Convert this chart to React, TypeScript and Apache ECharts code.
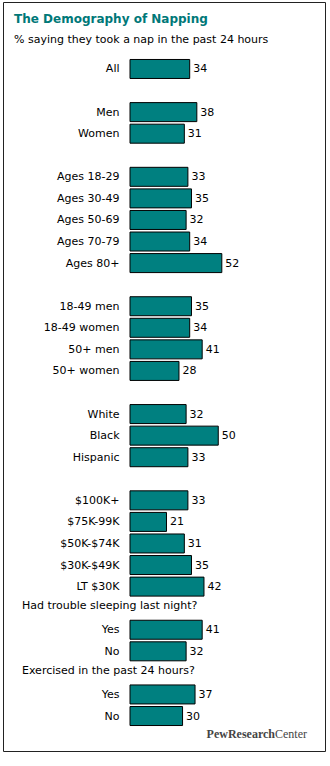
import React, { useEffect, useRef } from "react";
import * as echarts from "echarts";

const title = "The Demography of Napping";
const subtitle = "% saying they took a nap in the past 24 hours";
const categories = [
  "All", "",
  "Men", "Women", "",
  "Ages 18-29", "Ages 30-49", "Ages 50-69", "Ages 70-79", "Ages 80+", "",
  "18-49 men", "18-49 women", "50+ men", "50+ women", "",
  "White", "Black", "Hispanic", "",
  "$100K+", "$75K-99K", "$50K-$74K", "$30K-$49K", "LT $30K", "",
  "Yes", "No", "",
  "Yes", "No",
];
const values: (number | null)[] = [
  34, null,
  38, 31, null,
  33, 35, 32, 34, 52, null,
  35, 34, 41, 28, null,
  32, 50, 33, null,
  33, 21, 31, 35, 42, null,
  41, 32, null,
  37, 30,
];
const groupHeaders = [
  { index: 25, text: "Had trouble sleeping last night?" },
  { index: 28, text: "Exercised in the past 24 hours?" },
];
const sourceBold = "PewResearch";
const sourceRest = "Center";

const TEAL = "#008080";
const FONT = "DejaVu Sans";

export default function App() {
  const ref = useRef<HTMLDivElement>(null);
  useEffect(() => {
    if (!ref.current) return;
    const chart = echarts.init(ref.current, undefined, { renderer: "svg" });
    const baseOption: any = {
      animation: false,
      backgroundColor: "#ffffff",
      grid: { left: 129.5, top: 58.2, width: 178.5, height: 668.6, containLabel: false },
      xAxis: { type: "value", min: 0, max: 100, show: false },
      yAxis: {
        type: "category",
        inverse: true,
        data: categories.map((_, i) => String(i)),
        axisLine: { show: false },
        axisTick: { show: false },
        splitLine: { show: false },
        axisLabel: {
          interval: 0,
          margin: 10,
          color: "#000",
          fontFamily: FONT,
          fontSize: 11,
          formatter: (_v: string, i: number) => categories[i],
        },
      },
      series: [
        {
          type: "bar",
          data: values,
          barWidth: 20,
          itemStyle: { color: TEAL, borderColor: "#000", borderWidth: 1 },
          label: {
            show: true,
            position: "right",
            distance: 3,
            color: "#000",
            fontFamily: FONT,
            fontSize: 11,
          },
        },
      ],
    };
    chart.setOption(baseOption);
    const headerTexts = groupHeaders.map((h) => {
      const y = chart.convertToPixel({ yAxisIndex: 0 }, String(h.index)) as number;
      return {
        type: "text",
        left: 22,
        top: y - 8,
        style: { text: h.text, fill: "#000", font: `11px "${FONT}"` },
      };
    });
    chart.setOption({
      graphic: [
        {
          type: "rect",
          shape: { x: 3.5, y: 2.5, width: 322, height: 749 },
          style: { fill: "none", stroke: "#222", lineWidth: 1 },
          silent: true,
        },
        {
          type: "text",
          left: 14,
          top: 13,
          style: { text: title, fill: "#007878", font: `bold 12px "${FONT}"` },
        },
        {
          type: "text",
          left: 14,
          top: 34,
          style: { text: subtitle, fill: "#000", font: `11px "${FONT}"` },
        },
        ...headerTexts,
        {
          type: "text",
          right: 23,
          top: 728,
          style: {
            text: `{b|${sourceBold}}{n|${sourceRest}}`,
            rich: {
              b: { fontFamily: "Liberation Serif", fontSize: 12, fontWeight: "bold", fill: "#444" },
              n: { fontFamily: "Liberation Serif", fontSize: 12, fill: "#444" },
            },
          },
        },
      ],
    });
    return () => chart.dispose();
  }, []);
  return (
    <div
      ref={ref}
      style={{ position: "fixed", left: 0, top: 0, width: 330, height: 766 }}
    />
  );
}
